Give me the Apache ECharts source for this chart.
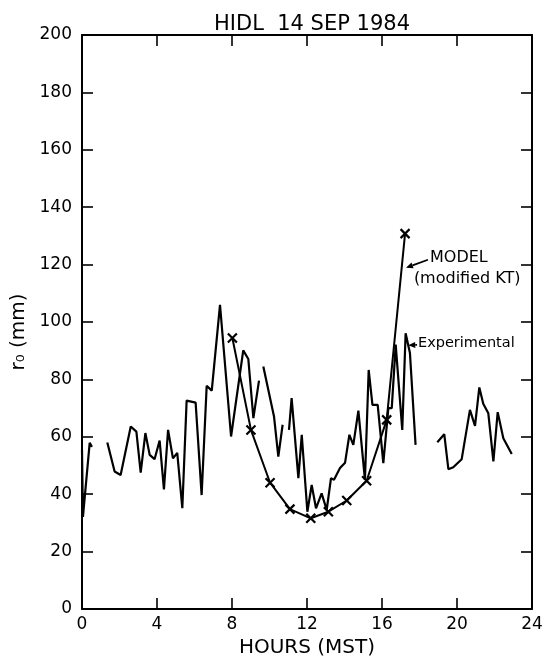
<!DOCTYPE html>
<html><head><meta charset="utf-8">
<script src="https://cdn.jsdelivr.net/npm/echarts@6/dist/echarts.min.js"></script>
<style>html,body{margin:0;padding:0;background:#fff}#c{width:543px;height:656px}</style>
</head><body><div id="c"></div>
<script>
const chartTitle = 'HIDL  14 SEP 1984';
const xAxisName = 'HOURS (MST)';
const yAxisName = 'r\u2080 (mm)';
const xTicks = [0, 4, 8, 12, 16, 20, 24];
const yTicks = [0, 20, 40, 60, 80, 100, 120, 140, 160, 180, 200];

// Experimental r0 (null = gap in record)
const expHours = [0.0, 0.05, 0.41, 0.53, null,
  1.35, 1.74, 2.06, 2.6, 2.9, 3.13, 3.38, 3.61, 3.87, 4.14, 4.37, 4.59, 4.85, 5.08, 5.35, 5.58, 6.06, 6.38, 6.65, 6.92, 7.36, 7.95, 8.6, 8.87, 9.14, 9.44, null,
  9.67, 10.24, 10.47, 10.7, null,
  11.04, 11.18, 11.54, 11.72, 12.02, 12.25, 12.48, 12.78, 13.05, 13.28, 13.44, 13.76, 14.03, 14.26, 14.47, 14.74, 15.09, 15.29, 15.49, 15.77, 16.07, 16.34, 16.52, 16.73, 17.08, 17.26, 17.49, 17.79, null,
  18.95, 19.32, 19.54, 19.8, 20.25, 20.69, 20.96, 21.19, 21.4, 21.67, 21.94, 22.17, 22.47, 22.92];
const expR0 = [55.4, 32.1, 57.9, 56.5, null,
  58.0, 47.9, 46.7, 63.6, 61.8, 47.5, 61.3, 53.7, 52.2, 58.7, 41.7, 62.4, 52.5, 54.4, 35.1, 72.6, 71.9, 39.7, 77.8, 76.1, 106.0, 60.1, 90.1, 87.1, 66.5, 79.6, null,
  84.5, 67.1, 53.1, 64.2, null,
  62.4, 73.5, 45.6, 60.7, 33.9, 43.2, 35.1, 40.3, 34.5, 45.6, 45.0, 49.1, 51.0, 60.7, 57.2, 69.1, 45.0, 83.3, 71.1, 71.1, 50.8, 70.0, 70.0, 92.1, 62.4, 96.1, 89.2, 57.2, null,
  58.1, 60.9, 48.7, 49.4, 52.2, 69.4, 63.8, 77.2, 71.5, 68.2, 51.4, 68.6, 59.5, 54.0];

// Model (modified KT)
const modelHours = [8.02, 9.01, 10.03, 11.09, 12.2, 13.14, 14.12, 15.18, 16.25, 17.23];
const modelR0 = [94.4, 62.4, 44.0, 34.8, 31.6, 33.9, 37.8, 44.7, 65.9, 130.8];

// Annotation texts
const modelLabel1 = 'MODEL';
const modelLabel2 = '(modified KT)';
const expLabel = 'Experimental';

const FONT = 'DejaVu Sans';
const chart = echarts.init(document.getElementById('c'), null, {renderer: 'canvas'});

const expData = expHours.map((h, i) => h === null ? ['-', '-'] : [h, expR0[i]]);
const modelData = modelHours.map((h, i) => [h, modelR0[i]]);

const axisLineStyle = {color: '#000', width: 2};
const tickStyle = {color: '#000', width: 1.6};

chart.setOption({
  animation: false,
  backgroundColor: '#fff',
  title: {
    text: chartTitle, left: 307, top: 9, textAlign: 'center',
    textStyle: {fontFamily: FONT, fontSize: 21, fontWeight: 'normal', color: '#000'}
  },
  grid: {left: 82, right: 11, top: 35, bottom: 47, containLabel: false, outerBoundsMode: 'none'},
  xAxis: [{
    type: 'value', min: 0, max: 24, interval: 4, position: 'bottom',
    axisLine: {show: true, onZero: false, lineStyle: axisLineStyle},
    axisTick: {show: true, inside: true, length: 11, lineStyle: tickStyle},
    axisLabel: {fontFamily: FONT, fontSize: 17, color: '#000', margin: 7, showMinLabel: true, showMaxLabel: true},
    splitLine: {show: false},
    name: xAxisName, nameLocation: 'middle', nameGap: 22,
    nameTextStyle: {fontFamily: FONT, fontSize: 20, color: '#000'}
  }, {
    type: 'value', min: 0, max: 24, interval: 4, position: 'top',
    axisLine: {show: true, onZero: false, lineStyle: axisLineStyle},
    axisTick: {show: true, inside: true, length: 11, lineStyle: tickStyle},
    axisLabel: {show: false}, splitLine: {show: false}
  }],
  yAxis: [{
    type: 'value', min: 0, max: 200, interval: 20, position: 'left',
    axisLine: {show: true, onZero: false, lineStyle: axisLineStyle},
    axisTick: {show: true, inside: true, length: 11, lineStyle: tickStyle},
    axisLabel: {fontFamily: FONT, fontSize: 17, color: '#000', margin: 10},
    splitLine: {show: false},
    name: yAxisName, nameLocation: 'middle', nameGap: 46,
    nameTextStyle: {fontFamily: FONT, fontSize: 20, color: '#000', padding: [0, 20, 0, 0]}
  }, {
    type: 'value', min: 0, max: 200, interval: 20, position: 'right',
    axisLine: {show: true, onZero: false, lineStyle: axisLineStyle},
    axisTick: {show: true, inside: true, length: 11, lineStyle: tickStyle},
    axisLabel: {show: false}, splitLine: {show: false}
  }],
  series: [{
    name: 'Experimental', type: 'line', data: expData, connectNulls: false,
    showSymbol: false, lineStyle: {color: '#000', width: 2.2}, z: 2
  }, {
    name: 'Model', type: 'line', data: modelData,
    symbol: 'path://M0,0L10,10M10,0L0,10', symbolSize: 9, showSymbol: true,
    itemStyle: {color: 'rgba(0,0,0,0)', borderColor: '#000', borderWidth: 2.2},
    lineStyle: {color: '#000', width: 2}, z: 3
  }]
});

function px(h, v) { return chart.convertToPixel({gridIndex: 0}, [h, v]); }
function arrow(from, to) {
  const a = px(from[0], from[1]), b = px(to[0], to[1]);
  const dx = b[0] - a[0], dy = b[1] - a[1];
  const L = Math.hypot(dx, dy), ux = dx / L, uy = dy / L;
  const hl = 7, hw = 3;
  const base = [b[0] - ux * hl, b[1] - uy * hl];
  return [
    {type: 'line', shape: {x1: a[0], y1: a[1], x2: base[0], y2: base[1]}, style: {stroke: '#000', lineWidth: 1.8}},
    {type: 'polygon', shape: {points: [b, [base[0] - uy * hw, base[1] + ux * hw], [base[0] + uy * hw, base[1] - ux * hw]]}, style: {fill: '#000'}}
  ];
}
function label(text, h, v, size) {
  const p = px(h, v);
  return {type: 'text', x: p[0], y: p[1], style: {text: text, fontFamily: FONT, fontSize: size, fill: '#000', textAlign: 'left', textVerticalAlign: 'middle'}};
}
chart.setOption({
  graphic: [
    label(modelLabel1, 18.56, 122.2, 16),
    label(modelLabel2, 17.7, 115.0, 16),
    label(expLabel, 17.92, 92.6, 14.5),
    ...arrow([18.45, 121.7], [17.28, 118.9]),
    ...arrow([17.87, 92.05], [17.4, 91.9])
  ]
});
</script>
</body></html>
